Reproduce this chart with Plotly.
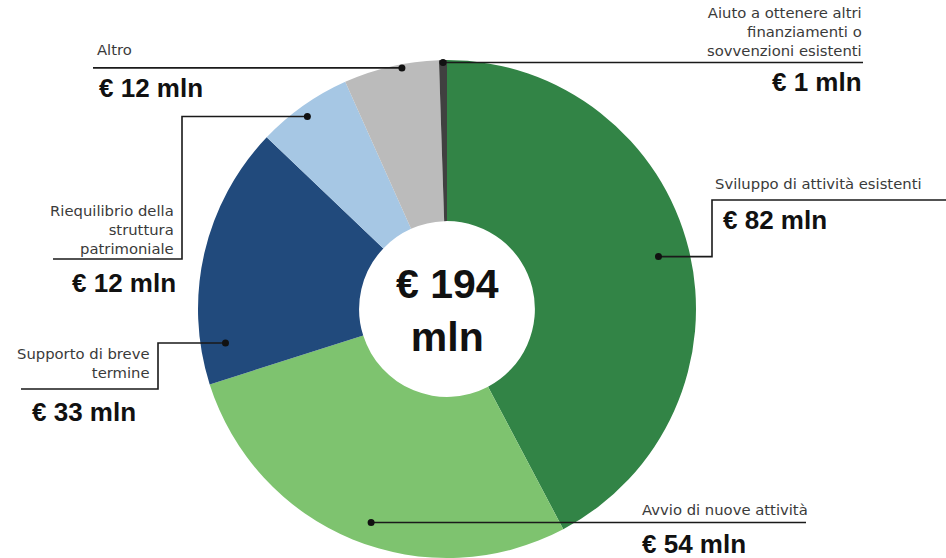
import math
import plotly.graph_objects as go

# ---- data ----
categories = [
    "Sviluppo di attività esistenti",
    "Avvio di nuove attività",
    "Supporto di breve termine",
    "Riequilibrio della struttura patrimoniale",
    "Altro",
    "Aiuto a ottenere altri finanziamenti o sovvenzioni esistenti",
]
values = [82, 54, 33, 12, 12, 1]
colors = ["#328446", "#7EC36F", "#214A7C", "#A6C7E4", "#BBBBBB", "#404040"]

# label text as displayed (line breaks)
display_labels = [
    "Sviluppo di attività esistenti",
    "Avvio di nuove attività",
    "Supporto di breve<br>termine",
    "Riequilibrio della<br>struttura<br>patrimoniale",
    "Altro",
    "Aiuto a ottenere altri<br>finanziamenti o<br>sovvenzioni esistenti",
]

# ---- layout geometry (pixels) ----
W, H = 946, 558
MT = 60
CX, CY, R = 447, 309, 249
HOLE = 0.353


def px(x):
    return x / W


def py(y):
    return (H - y) / (H - MT)


total = sum(values)

fig = go.Figure(
    go.Pie(
        labels=categories,
        values=values,
        marker=dict(colors=colors, line=dict(width=0)),
        hole=HOLE,
        sort=False,
        direction="clockwise",
        rotation=0,
        textinfo="none",
        hoverinfo="label+value",
        showlegend=False,
        domain=dict(x=[px(CX - R), px(CX + R)], y=[0, 1]),
    )
)

leaders = [
    dict(off=0.0, rf=0.875, path=[("h", 712), ("v", 200), ("h", 946)],
         lab=(713, 183, "left"), val=(721, 220, "left")),
    dict(off=-2.7, rf=0.91, path=[("h", 806)],
         lab=(640, 509, "left"), val=(640, 544, "left")),
    dict(off=-21.7, rf=0.90, path=[("h", 158), ("v", 389), ("h", 21)],
         lab=(152, 363, "right"), val=(30, 412, "left")),
    dict(off=-0.7, rf=0.955, path=[("h", 182), ("v", 259), ("h", 53)],
         lab=(176, 229, "right"), val=(178, 283, "right")),
    dict(off=2.4, rf=0.985, path=[("h", 93)],
         lab=(95, 50, "left"), val=(97, 88, "left")),
    dict(off=0.0, rf=0.99, path=[("h", 863)],
         lab=(864, 32, "right"), val=(864, 82, "right")),
]

shapes = []
annotations = []
cum = 0.0
for i, v in enumerate(values):
    mid = (cum + v / 2) / total * 360.0
    cum += v
    L = leaders[i]
    ang = math.radians(mid + L["off"])
    r = R * L["rf"]
    x0 = CX + r * math.sin(ang)
    y0 = CY - r * math.cos(ang)
    pts = [(x0, y0)]
    cx_, cy_ = x0, y0
    for kind, val in L["path"]:
        if kind == "h":
            cx_ = val
        else:
            cy_ = val
        pts.append((cx_, cy_))
    d = "M " + " L ".join(f"{px(a):.5f},{py(b):.5f}" for a, b in pts)
    shapes.append(dict(type="path", path=d, xref="paper", yref="paper",
                       line=dict(color="#1a1a1a", width=1.6)))
    rd = 3.5
    shapes.append(dict(type="circle", xref="paper", yref="paper",
                       x0=px(x0 - rd), x1=px(x0 + rd), y0=py(y0 + rd), y1=py(y0 - rd),
                       fillcolor="#111111", line=dict(width=0)))
    lx, ly, la = L["lab"]
    annotations.append(dict(
        text=display_labels[i], x=px(lx), y=py(ly), xref="paper", yref="paper",
        xanchor=la, yanchor="middle", align=la, showarrow=False,
        font=dict(family="DejaVu Sans, sans-serif", size=14.8, color="#3a3a3a"),
    ))
    vx, vy, va = L["val"]
    annotations.append(dict(
        text=f"€ {v} mln", x=px(vx), y=py(vy), xref="paper", yref="paper",
        xanchor=va, yanchor="middle", align=va, showarrow=False,
        font=dict(family="Liberation Sans, Arial, sans-serif", size=26,
                  color="#111111", weight="bold"),
    ))

annotations.append(dict(
    text=f"€ {total}<br>mln", x=px(CX), y=py(310), xref="paper", yref="paper",
    xanchor="center", yanchor="middle", align="center", showarrow=False,
    font=dict(family="Liberation Sans, Arial, sans-serif", size=41,
              color="#111111", weight="bold"),
))

fig.update_layout(
    width=W, height=H,
    margin=dict(l=0, r=0, t=MT, b=0, pad=0),
    paper_bgcolor="white", plot_bgcolor="white",
    shapes=shapes, annotations=annotations,
)

fig.write_html(
    "out.html",
    config={"displayModeBar": False},
    post_script="document.body.style.margin='0';document.body.style.overflow='hidden';",
)
